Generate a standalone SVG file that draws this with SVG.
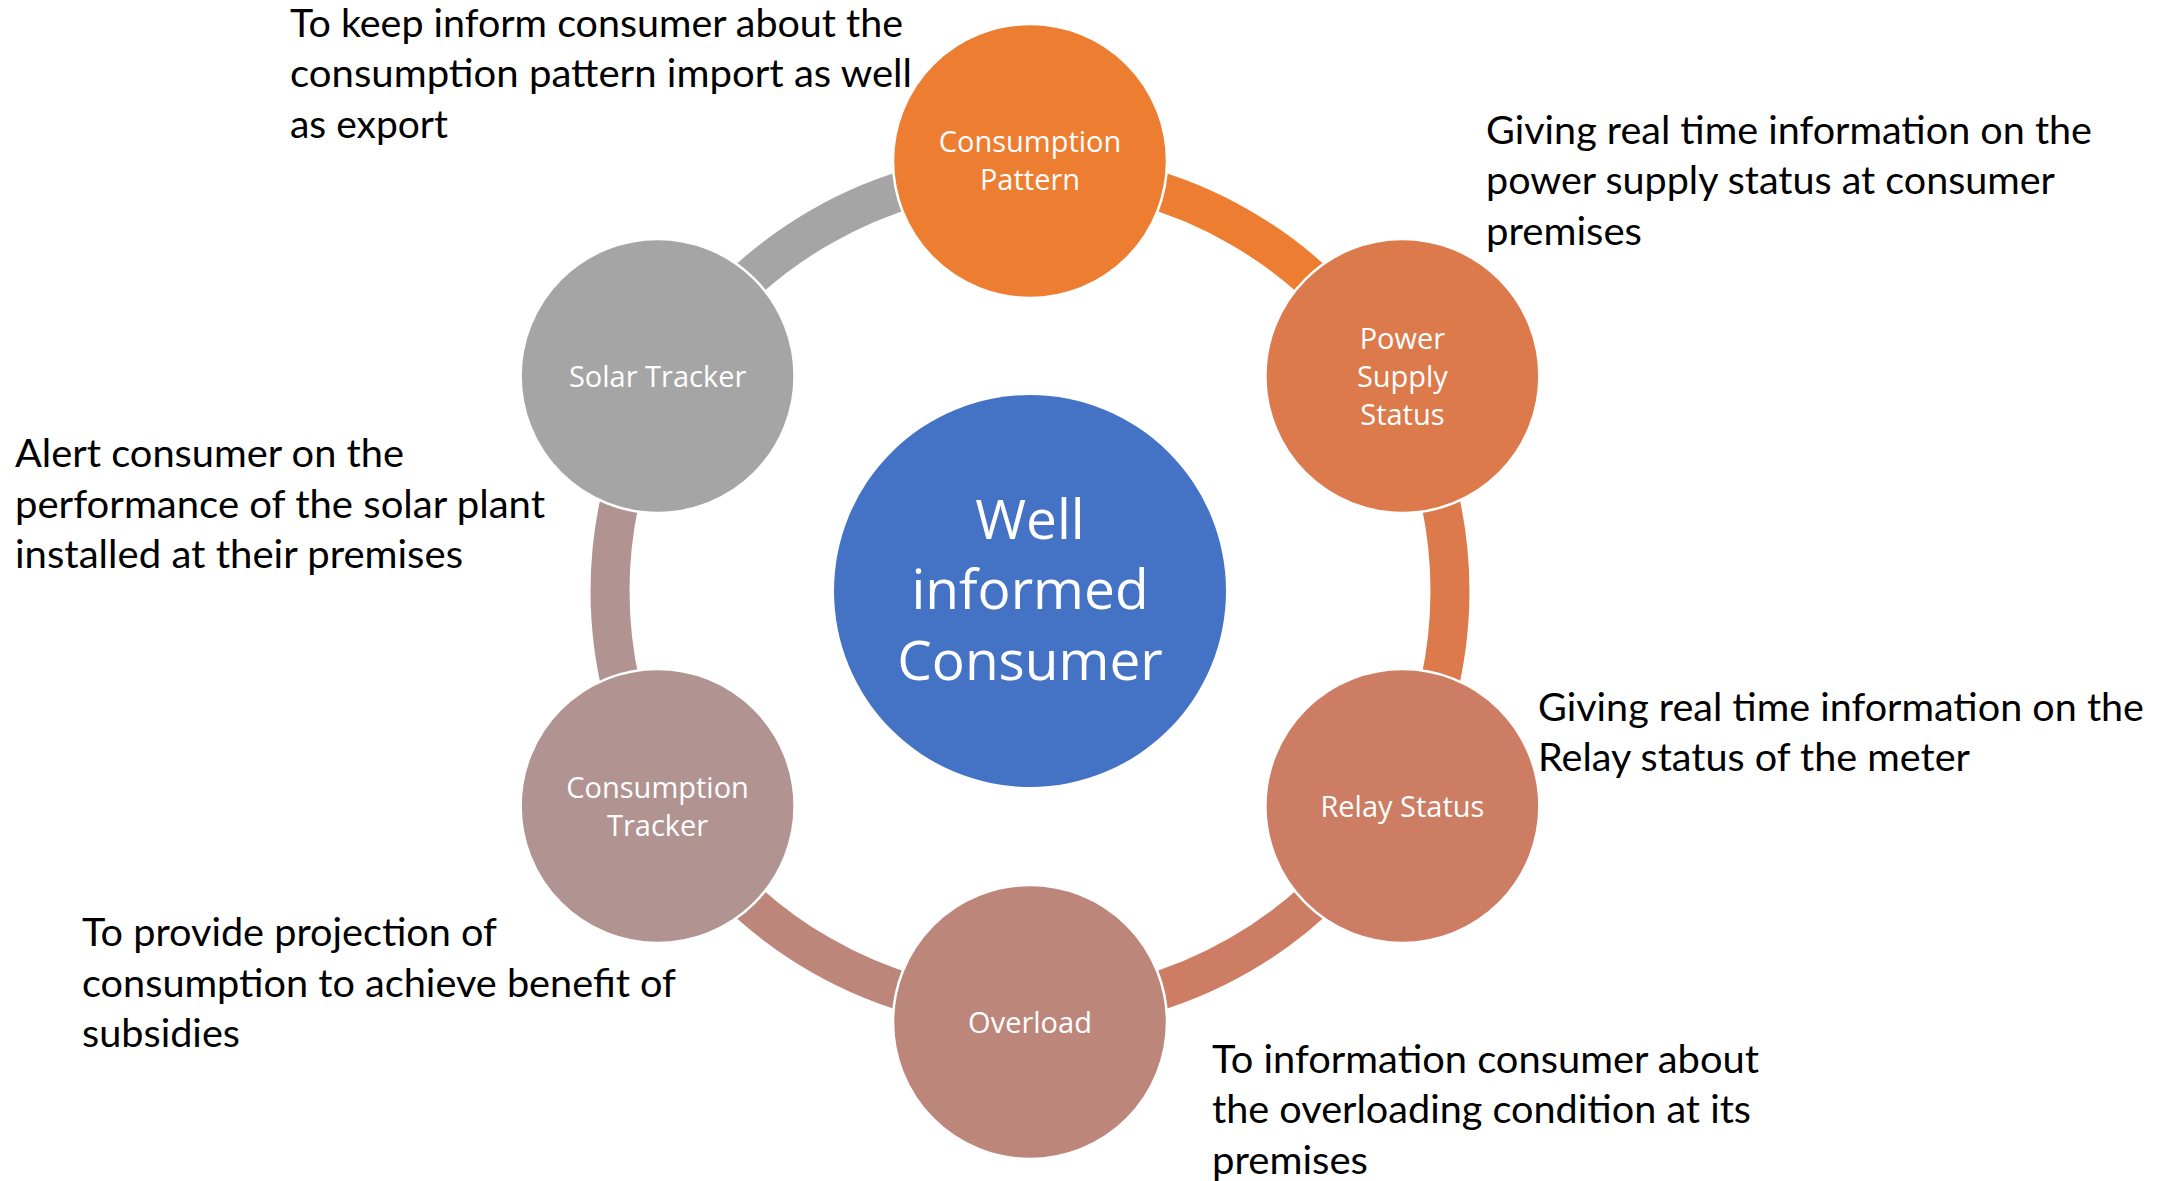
<svg xmlns="http://www.w3.org/2000/svg" width="2177" height="1181" viewBox="0 0 2177 1181">
<style>
.ring{fill:none;stroke-width:39;stroke-linecap:butt}
.node{stroke:#FFFFFF;stroke-width:2.5}
.lbl{font-family:"Open Sans","Noto Sans","DejaVu Sans",sans-serif;font-size:29px;fill:#FFFFFF;text-anchor:middle}
.hub{font-family:"Open Sans","Noto Sans","DejaVu Sans",sans-serif;font-size:55px;fill:#FFFFFF;text-anchor:middle}
.desc{font-family:Lato,"Open Sans","Liberation Sans",sans-serif;font-size:39px;fill:#000000}
</style>
<rect width="2177" height="1181" fill="#FFFFFF"/>
<g id="connectors">
  <path class="ring" stroke="#ED7D31" d="M1030 171 A420 420 0 0 1 1393.7 381"/>
  <path class="ring" stroke="#DC7A4B" d="M1393.7 381 A420 420 0 0 1 1393.7 801"/>
  <path class="ring" stroke="#CC7D64" d="M1393.7 801 A420 420 0 0 1 1030 1011"/>
  <path class="ring" stroke="#BD867B" d="M1030 1011 A420 420 0 0 1 666.3 801"/>
  <path class="ring" stroke="#B19391" d="M666.3 801 A420 420 0 0 1 666.3 381"/>
  <path class="ring" stroke="#A5A5A5" d="M666.3 381 A420 420 0 0 1 1030 171"/>
</g>
<g id="hub">
  <circle cx="1030" cy="591" r="196" fill="#4472C4"/>
  <text class="hub" x="1030" y="539">Well</text>
  <text class="hub" x="1030" y="609">informed</text>
  <text class="hub" x="1030" y="680">Consumer</text>
</g>
<g id="node-consumption-pattern">
  <circle class="node" cx="1030" cy="161" r="137" fill="#ED7D31"/>
  <text class="lbl" x="1030" y="152">Consumption</text>
  <text class="lbl" x="1030" y="190">Pattern</text>
</g>
<g id="node-power-supply-status">
  <circle class="node" cx="1402.4" cy="376" r="137" fill="#DC7A4B"/>
  <text class="lbl" x="1402.4" y="349">Power</text>
  <text class="lbl" x="1402.4" y="387">Supply</text>
  <text class="lbl" x="1402.4" y="425">Status</text>
</g>
<g id="node-relay-status">
  <circle class="node" cx="1402.4" cy="806" r="137" fill="#CC7D64"/>
  <text class="lbl" x="1402.4" y="817">Relay Status</text>
</g>
<g id="node-overload">
  <circle class="node" cx="1030" cy="1022" r="137" fill="#BD867B"/>
  <text class="lbl" x="1030" y="1033">Overload</text>
</g>
<g id="node-consumption-tracker">
  <circle class="node" cx="657.6" cy="806" r="137" fill="#B19391"/>
  <text class="lbl" x="657.6" y="798">Consumption</text>
  <text class="lbl" x="657.6" y="836">Tracker</text>
</g>
<g id="node-solar-tracker">
  <circle class="node" cx="657.6" cy="376" r="137" fill="#A5A5A5"/>
  <text class="lbl" x="657.6" y="387">Solar Tracker</text>
</g>
<g id="desc-consumption-pattern">
  <text class="desc" x="290" y="37" textLength="613" lengthAdjust="spacingAndGlyphs">To keep inform consumer about the</text>
  <text class="desc" x="290" y="87" textLength="622" lengthAdjust="spacingAndGlyphs">consumption pattern import as well</text>
  <text class="desc" x="290" y="138" textLength="158" lengthAdjust="spacingAndGlyphs">as export</text>
</g>
<g id="desc-power-supply-status">
  <text class="desc" x="1486" y="144" textLength="606" lengthAdjust="spacingAndGlyphs">Giving real time information on the</text>
  <text class="desc" x="1486" y="194" textLength="569" lengthAdjust="spacingAndGlyphs">power supply status at consumer</text>
  <text class="desc" x="1486" y="245" textLength="156" lengthAdjust="spacingAndGlyphs">premises</text>
</g>
<g id="desc-solar-tracker">
  <text class="desc" x="15" y="467" textLength="389" lengthAdjust="spacingAndGlyphs">Alert consumer on the</text>
  <text class="desc" x="15" y="518" textLength="530" lengthAdjust="spacingAndGlyphs">performance of the solar plant</text>
  <text class="desc" x="15" y="568" textLength="448" lengthAdjust="spacingAndGlyphs">installed at their premises</text>
</g>
<g id="desc-relay-status">
  <text class="desc" x="1538" y="721" textLength="606" lengthAdjust="spacingAndGlyphs">Giving real time information on the</text>
  <text class="desc" x="1538" y="771" textLength="432" lengthAdjust="spacingAndGlyphs">Relay status of the meter</text>
</g>
<g id="desc-consumption-tracker">
  <text class="desc" x="82" y="946" textLength="415" lengthAdjust="spacingAndGlyphs">To provide projection of</text>
  <text class="desc" x="82" y="997" textLength="594" lengthAdjust="spacingAndGlyphs">consumption to achieve benefit of</text>
  <text class="desc" x="82" y="1047" textLength="158" lengthAdjust="spacingAndGlyphs">subsidies</text>
</g>
<g id="desc-overload">
  <text class="desc" x="1212" y="1073" textLength="547" lengthAdjust="spacingAndGlyphs">To information consumer about</text>
  <text class="desc" x="1212" y="1123" textLength="539" lengthAdjust="spacingAndGlyphs">the overloading condition at its</text>
  <text class="desc" x="1212" y="1174" textLength="156" lengthAdjust="spacingAndGlyphs">premises</text>
</g>
</svg>
